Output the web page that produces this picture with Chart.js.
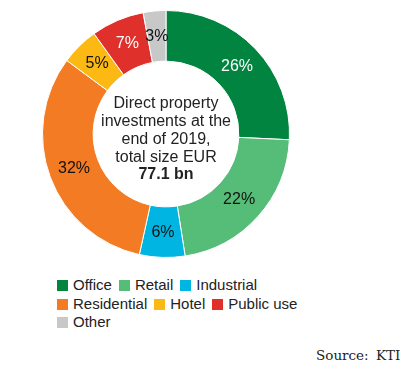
<!DOCTYPE html>
<html>
<head>
<meta charset="utf-8">
<script src="https://cdn.jsdelivr.net/npm/chart.js@4.4.1/dist/chart.umd.min.js"></script>
<style>
  body { margin: 0; background: #fff; width: 412px; height: 379px; overflow: hidden; position: relative; font-family: "Liberation Sans", Arial, sans-serif; }
  #wrap { position: absolute; left: 42px; top: 10px; width: 248px; height: 248px; }
  #legend { position: absolute; left: 57px; top: 276px; font-size: 15px; color: #222; }
  .row { height: 18.5px; line-height: 18.5px; white-space: nowrap; }
  .item { display: inline-block; margin-right: 7px; }
  .box { display: inline-block; width: 11px; height: 11px; margin-right: 5px; vertical-align: -1px; }
  #source { position: absolute; left: 316px; top: 347px; font-family: "DejaVu Serif", serif; font-size: 13.5px; color: #222; word-spacing: 3px; }
</style>
</head>
<body>
<div id="wrap"><canvas id="pie"></canvas></div>
<div id="legend"></div>
<div id="source">Source: KTI</div>
<script>
const labels = ['Office', 'Retail', 'Industrial', 'Residential', 'Hotel', 'Public use', 'Other'];
const shares = [26, 22, 6, 32, 5, 7, 3];
const colors = ['#00843f', '#55bd77', '#00b5e2', '#f37b23', '#fdb913', '#e0302b', '#c8c8c8'];
const labelColors = ['#fff', '#111', '#111', '#111', '#111', '#fff', '#111'];
const legendRows = [['Office', 'Retail', 'Industrial'], ['Residential', 'Hotel', 'Public use'], ['Other']];
const centerLines = ['Direct property', 'investments at the', 'end of 2019,', 'total size EUR'];
const centerBold = '77.1 bn';

// legend
const legend = document.getElementById('legend');
legendRows.forEach(row => {
    const div = document.createElement('div');
    div.className = 'row';
    row.forEach(name => {
        const i = labels.indexOf(name);
        div.innerHTML += `<span class="item"><span class="box" style="background:${colors[i]}"></span>${name}</span>`;
    });
    legend.appendChild(div);
});

const sliceLabels = {
    id: 'sliceLabels',
    afterDatasetsDraw(chart) {
        const ctx = chart.ctx;
        const meta = chart.getDatasetMeta(0);
        ctx.save();
        ctx.font = '16px "Liberation Sans", Arial, sans-serif';
        ctx.textAlign = 'center';
        ctx.textBaseline = 'middle';
        meta.data.forEach((arc, i) => {
            const p = arc.tooltipPosition();
            ctx.fillStyle = labelColors[i];
            ctx.fillText(shares[i] + '%', p.x, p.y);
        });
        // centre text
        const cx = (chart.chartArea.left + chart.chartArea.right) / 2;
        const cy = (chart.chartArea.top + chart.chartArea.bottom) / 2;
        ctx.fillStyle = '#222';
        ctx.font = '16px "Liberation Sans", Arial, sans-serif';
        centerLines.forEach((line, k) => {
            ctx.fillText(line, cx, cy - 30 + k * 17.7);
        });
        ctx.font = 'bold 16px "Liberation Sans", Arial, sans-serif';
        ctx.fillText(centerBold, cx, cy - 30 + 4 * 17.7);
        ctx.restore();
    }
};

new Chart(document.getElementById('pie').getContext('2d'), {
    type: 'doughnut',
    data: {
        labels: labels,
        datasets: [{
            data: shares,
            backgroundColor: colors,
            borderColor: '#fff',
            borderWidth: 1
        }]
    },
    options: {
        responsive: true,
        maintainAspectRatio: false,
        animation: false,
        cutout: '59%',
        plugins: {
            legend: { display: false },
            tooltip: { enabled: false }
        }
    },
    plugins: [sliceLabels]
});
</script>
</body>
</html>
